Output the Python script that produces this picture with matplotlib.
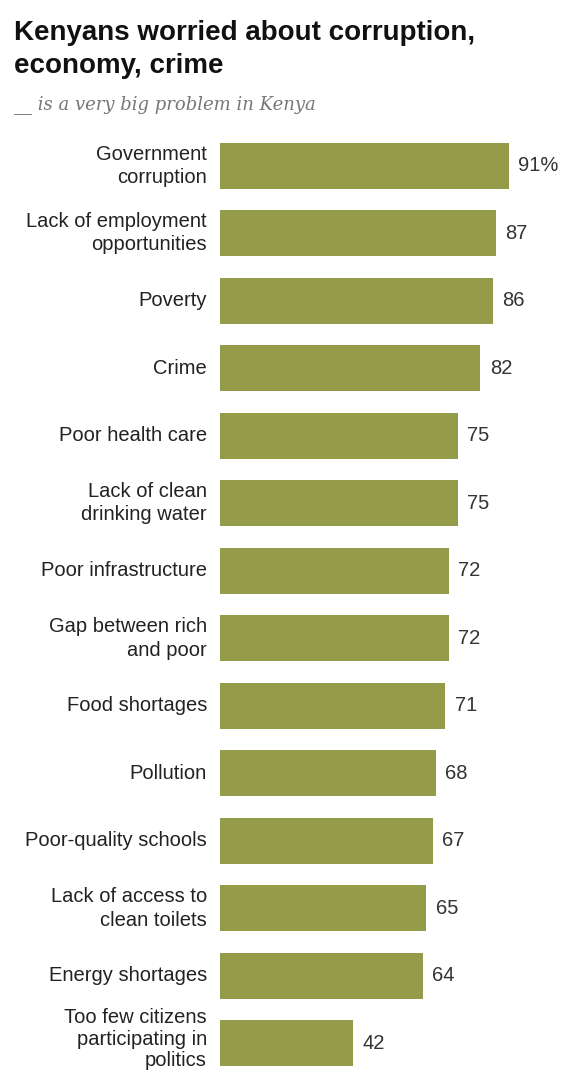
import matplotlib.pyplot as plt

categories = ["Government\ncorruption", "Lack of employment\nopportunities", "Poverty", "Crime",
              "Poor health care", "Lack of clean\ndrinking water", "Poor infrastructure",
              "Gap between rich\nand poor", "Food shortages", "Pollution", "Poor-quality schools",
              "Lack of access to\nclean toilets", "Energy shortages",
              "Too few citizens\nparticipating in\npolitics"]
values = [91, 87, 86, 82, 75, 75, 72, 72, 71, 68, 67, 65, 64, 42]
value_labels = ["91%"] + [str(v) for v in values[1:]]

W, H = 562, 1073
fig = plt.figure(figsize=(W / 100, H / 100), dpi=100)
fig.patch.set_facecolor("white")

row = 67.5
top_px = 132
left_px = 220
ax_w = 317.6
ax_h = H - top_px
ax = fig.add_axes([left_px / W, 0, ax_w / W, ax_h / H])
pos = list(range(len(values)))
ax.barh(pos, values, height=0.68, color="#949c4a")
ax.set_xlim(0, 100)
ax.set_ylim(-0.5 + ax_h / row, -0.5)
ax.axis("off")

font = "Liberation Sans"
for i, (c, v, lab) in enumerate(zip(categories, values, value_labels)):
    nlines = c.count("\n") + 1
    ls = 1.3 if nlines < 3 else 1.18
    yoff = -0.06 if nlines >= 3 else 0
    ax.text(-4.1, i + yoff, c, ha="right", va="center", fontsize=14.5, family=font,
            color="#222222", linespacing=ls)
    ax.text(v + 2.9, i, lab, ha="left", va="center", fontsize=14.5, family=font,
            color="#333333")

fig.text(14 / W, 1 - 33 / H, "Kenyans worried about corruption,", fontsize=20,
         fontweight="bold", family=font, color="#111111", va="center", ha="left")
fig.text(14 / W, 1 - 66 / H, "economy, crime", fontsize=20,
         fontweight="bold", family=font, color="#111111", va="center", ha="left")
fig.text(14 / W, 1 - 105 / H, "__ is a very big problem in Kenya", fontsize=13,
         style="italic", family="DejaVu Serif", color="#777777", va="center", ha="left")

fig.savefig("out.png", dpi=100)
